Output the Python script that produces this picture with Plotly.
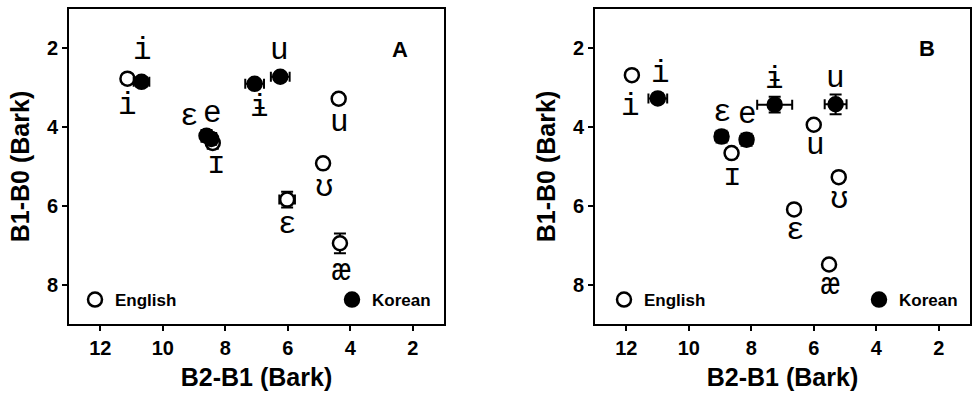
import plotly.graph_objects as go

# ---------------- data ----------------
eng_labels = ["i", "ɪ", "u", "ʊ", "ɛ", "æ"]
kor_labels = ["i", "e", "ɛ", "ɨ", "u"]

# Panel A
a_eng_x = [11.13, 8.40, 4.37, 4.87, 6.02, 4.33]
a_eng_y = [2.77, 4.40, 3.28, 4.92, 5.84, 6.95]
a_eng_ex = [0.10, 0.10, 0.10, 0.10, 0.25, 0.12]
a_eng_ey = [0.12, 0.15, 0.12, 0.12, 0.20, 0.25]
a_kor_x = [10.68, 8.45, 8.60, 7.06, 6.24]
a_kor_y = [2.85, 4.30, 4.22, 2.90, 2.72]
a_kor_ex = [0.25, 0.15, 0.15, 0.30, 0.30]
a_kor_ey = [0.12, 0.15, 0.15, 0.10, 0.10]

# Panel B
b_eng_x = [11.82, 8.63, 6.00, 5.20, 6.63, 5.51]
b_eng_y = [2.68, 4.66, 3.94, 5.27, 6.09, 7.49]
b_eng_ex = [0.12, 0.10, 0.10, 0.10, 0.12, 0.10]
b_eng_ey = [0.12, 0.12, 0.10, 0.12, 0.10, 0.10]
b_kor_x = [10.99, 8.15, 8.95, 7.25, 5.30]
b_kor_y = [3.27, 4.32, 4.24, 3.43, 3.42]
b_kor_ex = [0.30, 0.20, 0.20, 0.56, 0.35]
b_kor_ey = [0.12, 0.15, 0.15, 0.20, 0.25]

x_ticks = [12, 10, 8, 6, 4, 2]
y_ticks = [2, 4, 6, 8]

# label placement (pixel offsets from the point: dx right, dy down)
a_eng_off = [(0, 27), (4, 22), (1, 24), (1, 24), (0, 25), (2, 28)]
a_kor_off = [(1, -31), (1, -25), (-17, -19), (5, 24), (-1, -26)]
b_eng_off = [(-1, 31), (1, 23), (2, 21), (1, 22), (1, 21), (1, 21)]
b_kor_off = [(3, -25), (1, -25), (1, -24), (0, -25), (0, -26)]

# ---------------- figure ----------------
fig = go.Figure()

BLACK = "black"
MS = 14


def add_series(x, y, ex, ey, name, filled, xa, ya, legend):
    fig.add_trace(go.Scatter(
        x=x, y=y, mode="markers", name=f"<b>{name}</b>",
        xaxis=xa, yaxis=ya, legend=legend, showlegend=True,
        marker=dict(symbol="circle", size=MS,
                    color=BLACK if filled else "white",
                    line=dict(color=BLACK, width=2.5)),
        error_x=dict(type="data", array=ex, color=BLACK, thickness=2, width=5),
        error_y=dict(type="data", array=ey, color=BLACK, thickness=2, width=6),
    ))


add_series(a_eng_x, a_eng_y, a_eng_ex, a_eng_ey, "English", False, "x", "y", "legend")
add_series(a_kor_x, a_kor_y, a_kor_ex, a_kor_ey, "Korean", True, "x", "y", "legend2")
add_series(b_kor_x, b_kor_y, b_kor_ex, b_kor_ey, "Korean", True, "x2", "y2", "legend4")
add_series(b_eng_x, b_eng_y, b_eng_ex, b_eng_ey, "English", False, "x2", "y2", "legend3")

annotations = []
LBL_FONT = dict(family="Liberation Mono, Courier New, monospace", size=31, color=BLACK)


def add_labels(xs, ys, labels, offs, xref, yref):
    for xv, yv, t, (dx, dy) in zip(xs, ys, labels, offs):
        annotations.append(dict(x=xv, y=yv, xref=xref, yref=yref, text=t,
                                showarrow=False, xshift=dx, yshift=-dy,
                                font=LBL_FONT))


add_labels(a_eng_x, a_eng_y, eng_labels, a_eng_off, "x", "y")
add_labels(a_kor_x, a_kor_y, kor_labels, a_kor_off, "x", "y")
add_labels(b_eng_x, b_eng_y, eng_labels, b_eng_off, "x2", "y2")
add_labels(b_kor_x, b_kor_y, kor_labels, b_kor_off, "x2", "y2")

BOLD = "Liberation Sans, Arial, sans-serif"
annotations.append(dict(x=0.883, y=0.873, xref="x domain", yref="y domain", text="<b>A</b>",
                        xanchor="center", yanchor="middle",
                        showarrow=False, font=dict(family=BOLD, size=22, color=BLACK)))
annotations.append(dict(x=0.885, y=0.876, xref="x2 domain", yref="y2 domain", text="<b>B</b>",
                        xanchor="center", yanchor="middle",
                        showarrow=False, font=dict(family=BOLD, size=22, color=BLACK)))

W, H = 972, 402
dom_a = [69 / W, 444 / W]
dom_b = [595 / W, 970 / W]
dom_y = [1 - 324 / H, 1 - 9 / H]

axis_common = dict(
    showline=True, linecolor=BLACK, linewidth=2, mirror=True,
    showgrid=False, zeroline=False,
    ticks="outside", ticklen=5, tickwidth=1.5, tickcolor=BLACK,
    tickfont=dict(family=BOLD, size=20, color=BLACK),
)

xa = dict(axis_common, range=[13, 1], tickvals=x_ticks,
          ticktext=[f"<b>{v}</b>" for v in x_ticks],
          title=dict(text="<b>B2-B1 (Bark)</b>", standoff=10,
                     font=dict(family=BOLD, size=25, color=BLACK)))
ya = dict(axis_common, range=[9, 1], tickvals=y_ticks,
          ticktext=[f"<b>{v}</b>" for v in y_ticks],
          title=dict(text="<b>B1-B0 (Bark)</b>", standoff=10,
                     font=dict(family=BOLD, size=25, color=BLACK)))

leg_common = dict(bgcolor="rgba(0,0,0,0)", borderwidth=0, yanchor="middle",
                  xanchor="left", itemwidth=30,
                  font=dict(family=BOLD, size=17, color=BLACK))

fig.update_layout(
    width=W, height=H,
    margin=dict(l=0, r=0, t=0, b=0),
    paper_bgcolor="white", plot_bgcolor="white",
    xaxis=dict(xa, domain=dom_a, anchor="y"),
    yaxis=dict(ya, domain=dom_y, anchor="x"),
    xaxis2=dict(xa, domain=dom_b, anchor="y2"),
    yaxis2=dict(ya, domain=dom_y, anchor="x2"),
    legend=dict(leg_common, x=75 / W, y=1 - 300 / H),
    legend2=dict(leg_common, x=332 / W, y=1 - 300 / H),
    legend3=dict(leg_common, x=604 / W, y=1 - 300 / H),
    legend4=dict(leg_common, x=859 / W, y=1 - 300 / H),
    annotations=annotations,
)

fig.write_html("out.html", config={"displayModeBar": False},
               post_script="document.body.style.margin='0';")
